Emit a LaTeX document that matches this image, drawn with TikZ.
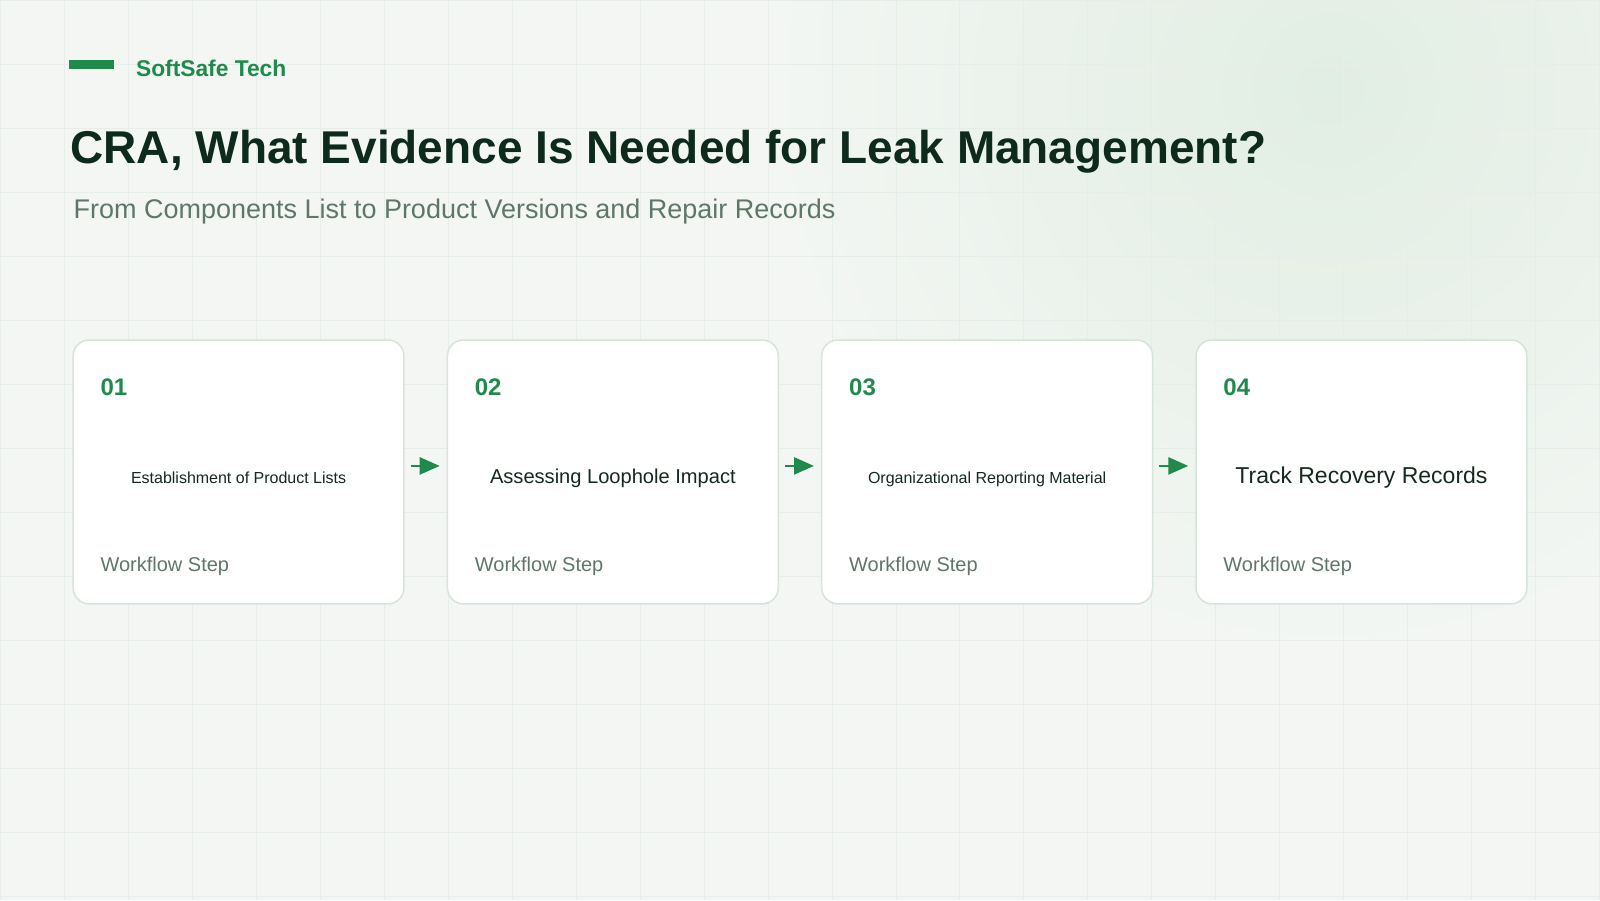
\documentclass[tikz,border=0pt]{standalone}
\usepackage{fontspec}
\setmainfont{Liberation Sans}
\usetikzlibrary{arrows.meta,positioning}

\definecolor{bgpaper}{HTML}{F3F6F3}
\definecolor{gridline}{HTML}{E7EDE8}
\definecolor{glow}{HTML}{E1EEE3}
\definecolor{brand}{HTML}{1F8A4C}
\definecolor{titleink}{HTML}{0E2A1C}
\definecolor{subink}{HTML}{5E7768}
\definecolor{bodyink}{HTML}{16291E}
\definecolor{cardline}{HTML}{D6E4DA}

\tikzset{
    card/.style={rectangle, rounded corners=16pt, fill=white, draw=cardline,
        line width=1.5pt, minimum width=331pt, minimum height=264pt, inner sep=0pt},
    stepnum/.style={anchor=base west, inner sep=0pt, text=brand,
        font=\fontsize{24}{28}\selectfont\bfseries},
    steptext/.style={anchor=base, inner sep=0pt, text=bodyink},
    stepfoot/.style={anchor=base west, inner sep=0pt, text=subink,
        font=\fontsize{20}{24}\selectfont},
    flow/.style={-{Triangle[length=20pt,width=17pt]}, draw=brand, line width=2.7pt}
}

\begin{document}
\begin{tikzpicture}[x=1pt, y=-1pt, node distance=42pt]
    % Background, glow and grid
    \fill[bgpaper] (0,0) rectangle (1600,900);
    \begin{scope}
        \clip (0,0) rectangle (1600,900);
        \shade[inner color=glow, outer color=bgpaper] (1330,90) circle (560);
    \end{scope}
    \begin{scope}[y=1pt]
        \draw[gridline, line width=0.9pt, step=64] (0,-900) grid (1600,0);
    \end{scope}
    \useasboundingbox (0,0) rectangle (1600,900);

    % Header
    \fill[brand] (69,60) rectangle (114,69);
    \node [anchor=base west, inner sep=0pt, text=brand,
        font=\fontsize{22.8}{27}\selectfont\bfseries] (brandname) at (135.5,76.5) {SoftSafe Tech};
    \node [anchor=base west, inner sep=0pt, text=titleink,
        font=\fontsize{46}{55}\selectfont\bfseries] (title) at (70,163)
        {CRA, What Evidence Is Needed for Leak Management?};
    \node [anchor=base west, inner sep=0pt, text=subink,
        font=\fontsize{27}{32}\selectfont] (subtitle) at (73,218)
        {From Components List to Product Versions and Repair Records};

    % Cards {c1, c2, c3, c4}
    \node [card, anchor=north west] (c1) at (72,339) {};
    \node [card]                    (c2) [right=of c1] {};
    \node [card]                    (c3) [right=of c2] {};
    \node [card]                    (c4) [right=of c3] {};

    % Step numbers
    \node [stepnum] (n1) at ([xshift=28pt,yshift=-56pt]c1.north west) {01};
    \node [stepnum] (n2) at ([xshift=28pt,yshift=-56pt]c2.north west) {02};
    \node [stepnum] (n3) at ([xshift=28pt,yshift=-56pt]c3.north west) {03};
    \node [stepnum] (n4) at ([xshift=28pt,yshift=-56pt]c4.north west) {04};

    % Step texts
    \node [steptext, font=\fontsize{16}{19}\selectfont]   (t1) at ([yshift=-12pt]c1.center) {Establishment of Product Lists};
    \node [steptext, font=\fontsize{20.1}{24}\selectfont] (t2) at ([yshift=-12pt]c2.center) {Assessing Loophole Impact};
    \node [steptext, font=\fontsize{16}{19}\selectfont]   (t3) at ([yshift=-12pt]c3.center) {Organizational Reporting Material};
    \node [steptext, font=\fontsize{23}{27}\selectfont]   (t4) at ([yshift=-12pt]c4.center) {Track Recovery Records};

    % Footers
    \node [stepfoot] (f1) at ([xshift=28pt,yshift=33pt]c1.south west) {Workflow Step};
    \node [stepfoot] (f2) at ([xshift=28pt,yshift=33pt]c2.south west) {Workflow Step};
    \node [stepfoot] (f3) at ([xshift=28pt,yshift=33pt]c3.south west) {Workflow Step};
    \node [stepfoot] (f4) at ([xshift=28pt,yshift=33pt]c4.south west) {Workflow Step};

    % Arrows
    \draw [flow, shorten <=6pt, shorten >=7pt] ([yshift=6pt]c1.east) -- ([yshift=6pt]c2.west);
    \draw [flow, shorten <=6pt, shorten >=7pt] ([yshift=6pt]c2.east) -- ([yshift=6pt]c3.west);
    \draw [flow, shorten <=6pt, shorten >=7pt] ([yshift=6pt]c3.east) -- ([yshift=6pt]c4.west);
\end{tikzpicture}
\end{document}
